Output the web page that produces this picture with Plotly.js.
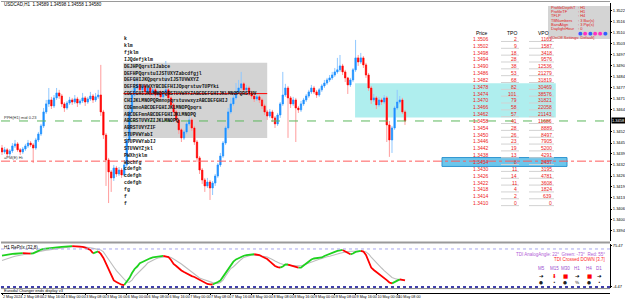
<!DOCTYPE html>
<html><head><meta charset="utf-8">
<script src="https://cdn.plot.ly/plotly-3.0.1.min.js"></script>
<style>html,body{margin:0;padding:0;background:#fff}#chart{width:625px;height:301px}</style>
</head><body><div id="chart"></div>
<script>
// ---------- DATA ----------
const chartTitle = "USDCAD,H1  1.34589 1.34598 1.34558 1.34580";
const xTickLabels = ["2 May 2024","2 May 08:00","2 May 16:00","3 May 00:00","3 May 08:00","3 May 16:00","6 May 00:00","6 May 08:00","6 May 16:00","7 May 00:00","7 May 08:00","7 May 16:00","8 May 00:00","8 May 08:00","8 May 16:00","9 May 00:00","9 May 08:00","9 May 16:00","10 May 00:00","10 May 08:00"];
const barsPerLabel = 8;

const open = [1.34422,1.34399,1.34411,1.34387,1.34405,1.34434,1.34446,1.34411,1.34399,1.34416,
1.34434,1.34451,1.34440,1.34422,1.34469,1.34504,1.34551,1.34633,1.34680,1.34703,
1.34668,1.34715,1.34744,1.34726,1.34680,1.34656,1.34685,1.34703,1.34691,1.34709,
1.34685,1.34697,1.34715,1.34691,1.34709,1.34726,1.34703,1.34721,1.34732,1.34633,
1.34498,1.34352,1.34282,1.34247,1.34305,1.34270,1.34293,1.34264,1.34323,1.34469,
1.34633,1.34732,1.34773,1.34791,1.34762,1.34785,1.34750,1.34773,1.34738,1.34762,
1.34732,1.34750,1.34721,1.34744,1.34762,1.34715,1.34674,1.34633,1.34586,1.34528,
1.34481,1.34516,1.34563,1.34586,1.34539,1.34457,1.34364,1.34293,1.34235,1.34200,
1.34223,1.34188,1.34217,1.34258,1.34323,1.34375,1.34451,1.34539,1.34633,1.34680,
1.34715,1.34750,1.34773,1.34797,1.34762,1.34773,1.34744,1.34726,1.34709,1.34721,
1.34703,1.34668,1.34633,1.34609,1.34633,1.34598,1.34563,1.34615,1.34680,1.34732,
1.34773,1.34715,1.34680,1.34703,1.34656,1.34645,1.34680,1.34703,1.34726,1.34750,
1.34773,1.34750,1.34732,1.34762,1.34785,1.34802,1.34820,1.34832,1.34849,1.34867,
1.34879,1.34902,1.34867,1.34832,1.34791,1.34820,1.34879,1.34949,1.34925,1.34949,
1.34908,1.34849,1.34773,1.34703,1.34715,1.34674,1.34703,1.34691,1.34715,1.34557,
1.34469,1.34539,1.34656,1.34691,1.34703,1.34633];
const high = [1.34440,1.34428,1.34422,1.34416,1.34451,1.34469,1.34457,1.34422,1.34428,1.34446,
1.34469,1.34463,1.34451,1.34481,1.34516,1.34563,1.34656,1.34703,1.34773,1.34721,
1.34732,1.34773,1.34762,1.34738,1.34691,1.34697,1.34721,1.34715,1.34732,1.34721,
1.34709,1.34744,1.34726,1.34721,1.34750,1.34738,1.34744,1.34762,1.34908,1.34645,
1.34510,1.34364,1.34293,1.34323,1.34317,1.34311,1.34305,1.34340,1.34481,1.34650,
1.34762,1.34832,1.34820,1.34802,1.34797,1.34797,1.34791,1.34785,1.34779,1.34773,
1.34762,1.34762,1.34756,1.34931,1.34773,1.34726,1.34685,1.34645,1.34598,1.34539,
1.34528,1.34574,1.34609,1.34598,1.34551,1.34469,1.34375,1.34305,1.34247,1.34247,
1.34235,1.34229,1.34270,1.34334,1.34393,1.34463,1.34551,1.34656,1.34715,1.34750,
1.34802,1.34820,1.34867,1.34808,1.34791,1.34785,1.34756,1.34738,1.34732,1.34732,
1.34715,1.34680,1.34645,1.34650,1.34645,1.34609,1.34627,1.34691,1.34867,1.34797,
1.34785,1.34726,1.34721,1.34715,1.34668,1.34697,1.34715,1.34738,1.34762,1.34791,
1.34785,1.34762,1.34773,1.34797,1.34820,1.34832,1.34849,1.34867,1.34890,1.34949,
1.34966,1.34914,1.34879,1.34838,1.34832,1.34890,1.35054,1.34966,1.34978,1.34960,
1.34920,1.34861,1.34785,1.34738,1.34726,1.34721,1.34715,1.34732,1.34726,1.34580,
1.34551,1.34668,1.34762,1.34726,1.34715,1.34645];
const low = [1.34381,1.34387,1.34370,1.34375,1.34393,1.34422,1.34399,1.34381,1.34387,1.34405,
1.34422,1.34428,1.34334,1.34411,1.34457,1.34492,1.34539,1.34621,1.34662,1.34650,
1.34656,1.34703,1.34709,1.34662,1.34633,1.34645,1.34674,1.34674,1.34680,1.34662,
1.34674,1.34685,1.34668,1.34680,1.34697,1.34685,1.34691,1.34709,1.34609,1.34475,
1.34200,1.34100,1.34165,1.34229,1.34253,1.34258,1.34247,1.34253,1.34311,1.34457,
1.34615,1.34721,1.34762,1.34744,1.34750,1.34733,1.34738,1.34721,1.34726,1.34715,
1.34721,1.34703,1.34709,1.34738,1.34697,1.34656,1.34615,1.34568,1.34504,1.34457,
1.34469,1.34504,1.34551,1.34522,1.34440,1.34340,1.34270,1.34212,1.34165,1.34188,
1.34118,1.34147,1.34200,1.34247,1.34311,1.34364,1.34440,1.34528,1.34621,1.34668,
1.34703,1.34744,1.34762,1.34750,1.34750,1.34726,1.34709,1.34691,1.34697,1.34685,
1.34650,1.34615,1.34586,1.34598,1.34574,1.34539,1.34551,1.34598,1.34668,1.34721,
1.34481,1.34656,1.34668,1.34457,1.34627,1.34633,1.34668,1.34691,1.34715,1.34738,
1.34738,1.34715,1.34721,1.34750,1.34773,1.34791,1.34808,1.34820,1.34838,1.34856,
1.34867,1.34849,1.34808,1.34738,1.34779,1.34808,1.34867,1.34902,1.34914,1.34890,
1.34832,1.34756,1.34680,1.34691,1.34650,1.34662,1.34674,1.34680,1.34457,1.34370,
1.34393,1.34528,1.34645,1.34680,1.34621,1.34557];
const close = [1.34399,1.34411,1.34387,1.34405,1.34434,1.34446,1.34411,1.34399,1.34416,1.34434,
1.34451,1.34440,1.34422,1.34469,1.34504,1.34551,1.34633,1.34680,1.34703,1.34668,
1.34715,1.34744,1.34726,1.34680,1.34656,1.34685,1.34703,1.34691,1.34709,1.34685,
1.34697,1.34715,1.34691,1.34709,1.34726,1.34703,1.34721,1.34732,1.34633,1.34498,
1.34352,1.34282,1.34247,1.34305,1.34270,1.34293,1.34264,1.34323,1.34469,1.34633,
1.34732,1.34773,1.34791,1.34762,1.34785,1.34750,1.34773,1.34738,1.34762,1.34732,
1.34750,1.34721,1.34744,1.34762,1.34715,1.34674,1.34633,1.34586,1.34528,1.34481,
1.34516,1.34563,1.34586,1.34539,1.34457,1.34364,1.34293,1.34235,1.34200,1.34223,
1.34188,1.34217,1.34258,1.34323,1.34375,1.34451,1.34539,1.34633,1.34680,1.34715,
1.34750,1.34773,1.34797,1.34762,1.34773,1.34744,1.34726,1.34709,1.34721,1.34703,
1.34668,1.34633,1.34609,1.34633,1.34598,1.34563,1.34615,1.34680,1.34732,1.34773,
1.34715,1.34680,1.34703,1.34656,1.34645,1.34680,1.34703,1.34726,1.34750,1.34773,
1.34750,1.34732,1.34762,1.34785,1.34802,1.34820,1.34832,1.34849,1.34867,1.34879,
1.34902,1.34867,1.34832,1.34791,1.34820,1.34879,1.34949,1.34925,1.34949,1.34908,
1.34849,1.34773,1.34703,1.34715,1.34674,1.34703,1.34691,1.34715,1.34557,1.34469,
1.34539,1.34656,1.34691,1.34703,1.34633,1.34580];

const tdiPrice = [61.8,62.3,62.6,63.0,63.3,63.5,63.7,63.9,64.0,63.8,
63.7,63.6,63.8,65.0,66.6,67.5,68.0,68.4,68.7,68.8,
68.9,69.4,69.7,69.9,70.1,70.4,70.6,70.6,70.5,70.4,
70.2,69.9,69.2,68.0,67.1,63.9,65.2,65.8,63.3,59.5,
53.8,48.1,42.4,38.2,36.7,35.3,34.2,33.9,37.0,40.5,
45.3,49.1,51.4,54.5,55.7,57.1,58.5,59.2,60.0,60.4,
60.9,61.2,61.4,61.1,60.4,57.6,53.8,51.9,49.5,47.6,
46.2,44.8,43.9,42.4,41.5,40.1,38.6,37.0,35.8,34.9,
34.6,34.4,35.3,36.7,38.2,42.0,45.3,48.6,52.8,56.0,
58.1,59.5,60.6,61.6,62.1,62.5,62.9,63.0,62.8,62.3,
60.9,59.5,58.5,56.2,53.8,51.9,50.8,50.3,51.4,53.3,
53.3,52.5,52.1,51.4,50.4,50.4,52.3,54.5,56.6,58.1,
59.0,59.5,59.7,60.0,61.4,62.5,63.5,64.2,65.2,66.1,
66.8,67.1,65.6,63.7,63.0,63.7,65.2,65.8,66.1,65.6,
62.3,55.7,50.4,48.1,46.2,44.9,42.9,41.0,38.6,36.3,
35.5,37.0,38.2,39.3,38.8,38.2];
const tdiSignal = [57.1,58.1,59.0,59.7,60.4,61.1,61.6,62.3,62.9,63.5,
64.0,64.5,64.9,65.3,65.8,66.3,66.6,66.9,67.1,67.3,
67.7,68.2,68.6,68.9,69.3,69.7,70.0,70.3,70.5,70.6,
70.6,70.4,70.1,69.6,69.1,68.6,68.2,68.0,67.1,65.2,
61.4,57.6,54.3,51.0,47.6,44.8,41.5,38.6,36.7,36.5,
38.6,42.0,44.3,46.5,49.1,51.9,54.7,56.2,57.6,58.5,
59.5,60.1,60.6,60.7,60.6,60.0,58.5,57.1,55.2,53.8,
51.9,50.0,48.1,45.7,43.9,42.0,40.5,39.6,38.6,37.8,
37.2,36.2,35.8,35.5,36.2,38.6,42.4,46.2,49.5,51.2,
53.8,56.2,58.1,60.0,60.9,61.8,62.3,62.3,62.1,61.8,
61.4,60.9,60.4,59.5,58.1,56.6,55.2,54.3,53.5,53.0,
52.8,52.5,52.3,52.1,52.1,52.1,52.8,53.8,54.7,55.7,
56.6,57.6,58.2,59.0,60.0,60.6,61.2,61.7,62.3,63.3,
64.0,64.7,65.2,65.6,65.8,65.9,66.0,66.1,66.1,65.9,
65.2,63.3,60.4,57.6,54.7,52.3,50.0,47.6,45.3,42.9,
41.0,40.1,39.3,38.8,38.6,38.6];
const tdiLevels = [68, 32];

const priceTicks = [1.35224,1.35159,1.35095,1.35031,1.34966,1.34902,1.34838,1.34773,1.34709,1.34645,1.34516,1.34451,1.34387,1.34323,1.34258,1.34194,1.34130,1.34065,1.34001,1.33937];
const currentPrice = 1.34580;
const pivotLevel = 1.34580;   // green dashed
const pmLevel = 1.34345;      // red dash-dot

const tpoPrices = [1.3506,1.3502,1.3498,1.3494,1.3490,1.3486,1.3482,1.3478,1.3474,1.3470,1.3466,1.3462,1.3458,1.3454,1.3450,1.3446,1.3442,1.3438,1.3434,1.3430,1.3426,1.3422,1.3418,1.3414,1.3410];
const tpoLetters = ["k","klm","fjklm","IJQdefjklm","DEJHPQqrstIJabce","DEFHPQqrstuIJSTUXYZabcdfgjl","DEFGHIJKQpqrstuvIJSTUVWXYZ","DEFRSTUVWXYBCDEFHIJOpqrstuvTUPYki","CDEFGHIJKLMNOPQRSTUVWXYZABCDEFGHIJKLMNOPQRSTUV","CHIJKLMNOPQRmnopqrstuvwxyzABCDEFGHIJ","CDEmnoABCDEFGHIJKLMNOPQpqrs","ABCDEFmnABCDEFGHIJKLMNOPQ","ABCRSTUVYZIJKLMNOPQ","ABRSTUVYZIF","STUPVWYabI","STUPVWYabIJ","STUVWYZjkl","PWXhjklm","Wbchfg","cdefgh","cdefgh","cdefgh","fg","f","f"];
const tpoCounts = [2,9,18,28,38,53,68,82,101,79,58,57,41,28,26,23,19,13,8,11,14,11,4,2,0];
const vpoCounts = [1161,1587,3418,9576,12536,21279,31819,30469,38576,31821,22058,21143,11686,8889,8497,7905,5200,4291,2437,3195,4781,3608,1824,639,0];
const profileStartBar = [47, 136];
const profileEndBar = [102, 213];
const valueAreaLow = [1.3448, 1.3460];
const valueAreaHigh = [1.3492, 1.3480];
const pocPrice = 1.3474;
const highlightPrice = 1.3434;

const infoLabels = ["ProfileDepthT","ProfileTF","TFLP","TBNumbers","BarsAlign","DaylightHour"];
const infoValues = ["H1","H1","H4","3 Bar(s)","3 Pip(s)","0"];
const tfLabels = ["M5","M15","M30","H1","H4","D1"];
const tfArrows = ["➔","⬇","■","➔","■","➔"];
const tfArrowColors = ["#000000","#ff0000","#ff0000","#000000","#ff0000","#000000"];
const tfMarks = ["●","•","●","%","●","•"];
const dotColors = ["#3060ff","#ff30c0","#3060ff","#ff30c0","#ff30c0","#3060ff"];

// ---------- GEOMETRY HELPERS ----------
const W = 625, H = 301, ML = 1, MR = 15, MT = 2, MB = 8;
const PW = W - ML - MR, PH = H - MT - MB;
const px = p => (p - ML) / PW;
const py = p => (H - MB - p) / PH;

const bars = close.map((_, i) => i);
const bodyHigh = open.map((o, i) => Math.max(o, close[i]));
const bodyLow = open.map((o, i) => Math.min(o, close[i]));

function runs(vals, up) {
  const xs = [], ys = [];
  for (let i = 0; i < vals.length - 1; i++) {
    const isUp = vals[i + 1] >= vals[i];
    if (isUp !== up) continue;
    if (!(xs.length && xs[xs.length - 1] === i)) {
      if (xs.length) { xs.push(null); ys.push(null); }
      xs.push(i); ys.push(vals[i]);
    }
    xs.push(i + 1); ys.push(vals[i + 1]);
  }
  return { xs, ys };
}
const upRun = runs(tdiPrice, true), dnRun = runs(tdiPrice, false);

const traces = [
  { type: 'candlestick', x: bars, open, high, low, close, xaxis: 'x', yaxis: 'y',
    increasing: { line: { color: '#90c8ff', width: 1 }, fillcolor: '#90c8ff' },
    decreasing: { line: { color: '#ff9c9c', width: 1 }, fillcolor: '#ff9c9c' },
    whiskerwidth: 0, hoverinfo: 'skip', showlegend: false },
  { type: 'candlestick', x: bars, open, high: bodyHigh, low: bodyLow, close, xaxis: 'x', yaxis: 'y',
    increasing: { line: { color: '#1e90ff', width: 0.5 }, fillcolor: '#1e90ff' },
    decreasing: { line: { color: '#ff0000', width: 0.5 }, fillcolor: '#ff0000' },
    whiskerwidth: 0, hoverinfo: 'skip', showlegend: false },
  { type: 'scatter', mode: 'lines', x: bars, y: tdiSignal, xaxis: 'x', yaxis: 'y2',
    line: { color: '#bdbdbd', width: 1.1 }, hoverinfo: 'skip' },
  { type: 'scatter', mode: 'lines', x: upRun.xs, y: upRun.ys, xaxis: 'x', yaxis: 'y2',
    line: { color: '#1ed21e', width: 1.8 }, connectgaps: false, hoverinfo: 'skip' },
  { type: 'scatter', mode: 'lines', x: dnRun.xs, y: dnRun.ys, xaxis: 'x', yaxis: 'y2',
    line: { color: '#ff0000', width: 1.8 }, connectgaps: false, hoverinfo: 'skip' }
];

// ---------- SHAPES ----------
const shapes = [];
shapes.push({ type: 'rect', xref: 'x', yref: 'y', x0: profileStartBar[0] - 0.3, x1: profileEndBar[0], y0: valueAreaLow[0], y1: valueAreaHigh[0], fillcolor: '#d3d3d3', line: { width: 0 }, layer: 'below' });
shapes.push({ type: 'rect', xref: 'x', yref: 'y', x0: profileStartBar[1] - 0.2, x1: profileEndBar[1], y0: valueAreaLow[1], y1: valueAreaHigh[1], fillcolor: '#afeeee', line: { width: 0 }, layer: 'below' });
shapes.push({ type: 'rect', xref: 'paper', yref: 'y', x0: px(442), x1: px(567), y0: highlightPrice - 0.00026, y1: highlightPrice + 0.00026, fillcolor: '#6cc6ec', line: { color: '#2f95d0', width: 1 }, layer: 'below' });
shapes.push({ type: 'line', xref: 'x', yref: 'y', x0: profileStartBar[0] - 0.3, x1: profileEndBar[0], y0: pocPrice, y1: pocPrice, line: { color: '#ff0000', width: 1 } });
shapes.push({ type: 'line', xref: 'paper', yref: 'y', x0: 0, x1: 1, y0: pivotLevel, y1: pivotLevel, line: { color: '#5cb85c', width: 1, dash: 'dash' } });
shapes.push({ type: 'line', xref: 'paper', yref: 'y', x0: 0, x1: 1, y0: pmLevel, y1: pmLevel, line: { color: '#ff5a5a', width: 1, dash: 'dashdot' } });
shapes.push({ type: 'rect', xref: 'paper', yref: 'paper', x0: px(548), x1: 1, y0: py(39), y1: py(6), fillcolor: '#d4d4d4', line: { width: 0 } });
tpoPrices.forEach(p => {
  shapes.push({ type: 'line', xref: 'paper', yref: 'y', x0: px(501), x1: px(519), y0: p - 0.00015, y1: p - 0.00015, line: { color: '#d2d2d2', width: 1 } });
  shapes.push({ type: 'line', xref: 'paper', yref: 'y', x0: px(529), x1: px(554), y0: p - 0.00015, y1: p - 0.00015, line: { color: '#d2d2d2', width: 1 } });
});
shapes.push({ type: 'line', xref: 'paper', yref: 'paper', x0: 0, x1: 1, y0: py(242.5), y1: py(242.5), line: { color: '#9a9a9a', width: 2 } });
shapes.push({ type: 'line', xref: 'paper', yref: 'paper', x0: 0, x1: 1, y0: py(288.6), y1: py(288.6), line: { color: '#888888', width: 1 } });
shapes.push({ type: 'line', xref: 'paper', yref: 'paper', x0: 0, x1: 1, y0: py(1.5), y1: py(1.5), line: { color: '#9a9a9a', width: 1 } });
shapes.push({ type: 'line', xref: 'paper', yref: 'y2', x0: 0, x1: 1, y0: tdiLevels[0], y1: tdiLevels[0], line: { color: '#a8a8f0', width: 1, dash: 'dot' } });
shapes.push({ type: 'line', xref: 'paper', yref: 'y2', x0: 0, x1: 1, y0: tdiLevels[1], y1: tdiLevels[1], line: { color: '#000090', width: 1.5, dash: 'dot' } });

// ---------- ANNOTATIONS ----------
const F = 'Liberation Sans, Arial, sans-serif';
const FN = 'Liberation Sans Narrow, Liberation Sans, Arial, sans-serif';
const ann = [];
const txt = (o) => ann.push(Object.assign({ showarrow: false, borderpad: 0 }, o));
txt({ text: chartTitle, xref: 'paper', yref: 'paper', x: px(3), y: py(4.5), xanchor: 'left', yanchor: 'middle', font: { family: F, size: 4.5, color: '#000' } });
txt({ text: 'PPH(H1) mid 0.23', xref: 'paper', yref: 'y', x: px(3), y: pivotLevel, xanchor: 'left', yanchor: 'bottom', font: { family: F, size: 4, color: '#333' } });
txt({ text: '=PM(E) Hi', xref: 'paper', yref: 'y', x: px(3), y: pmLevel, xanchor: 'left', yanchor: 'bottom', font: { family: F, size: 4, color: '#333' } });
tpoLetters.forEach((s, k) => txt({ text: '<b>' + s + '</b>', xref: 'x', yref: 'y', x: profileStartBar[0] - 0.5, y: tpoPrices[k], xanchor: 'left', yanchor: 'middle', font: { family: 'Liberation Mono, monospace', size: 4.8, color: '#111' } }));
txt({ text: 'Price', xref: 'paper', yref: 'paper', x: px(489), y: py(33), xanchor: 'right', yanchor: 'middle', font: { family: F, size: 5, color: '#000' } });
txt({ text: 'TPO', xref: 'paper', yref: 'paper', x: px(518), y: py(33), xanchor: 'right', yanchor: 'middle', font: { family: F, size: 5, color: '#000' } });
txt({ text: 'VPO', xref: 'paper', yref: 'paper', x: px(550), y: py(33), xanchor: 'right', yanchor: 'middle', font: { family: F, size: 5, color: '#000' } });
tpoPrices.forEach((p, k) => {
  txt({ text: p.toFixed(4), xref: 'paper', yref: 'y', x: px(490), y: p, xanchor: 'right', yanchor: 'middle', font: { family: F, size: 5, color: '#ee2222' } });
  txt({ text: String(tpoCounts[k]), xref: 'paper', yref: 'y', x: px(518), y: p, xanchor: 'right', yanchor: 'middle', font: { family: F, size: 5, color: '#ee2222' } });
  txt({ text: String(vpoCounts[k]), xref: 'paper', yref: 'y', x: px(553), y: p, xanchor: 'right', yanchor: 'middle', font: { family: F, size: 5, color: '#ee2222' } });
});
infoLabels.forEach((s, k) => {
  const yy = py(7.5 + k * 4.2);
  txt({ text: s, xref: 'paper', yref: 'paper', x: px(550), y: yy, xanchor: 'left', yanchor: 'middle', font: { family: F, size: 4, color: '#e02020' } });
  txt({ text: ': ' + infoValues[k], xref: 'paper', yref: 'paper', x: px(577), y: yy, xanchor: 'left', yanchor: 'middle', font: { family: F, size: 4, color: '#e02020' } });
});
dotColors.forEach((c, k) => txt({ text: '●', xref: 'paper', yref: 'paper', x: px(580 + k * 5), y: py(33), xanchor: 'center', yanchor: 'middle', font: { family: 'DejaVu Sans', size: 5, color: c } }));
txt({ text: '[OnOff Settings: Default]', xref: 'paper', yref: 'paper', x: px(550), y: py(37.5), xanchor: 'left', yanchor: 'middle', font: { family: F, size: 4, color: '#e02020' } });
txt({ text: currentPrice.toFixed(4), xref: 'paper', yref: 'y', x: 1, y: currentPrice, xanchor: 'left', yanchor: 'middle', xshift: 1, bgcolor: '#000', font: { family: F, size: 4, color: '#fff' } });
txt({ text: 'H1 RePrIx (32,8)', xref: 'paper', yref: 'paper', x: px(3), y: py(247.5), xanchor: 'left', yanchor: 'middle', font: { family: F, size: 4.5, color: '#000' } });
txt({ text: 'TDI AnalogAngle: 22°  Green: -73°  Red: 55°', xref: 'paper', yref: 'paper', x: px(606), y: py(254), xanchor: 'right', yanchor: 'middle', font: { family: F, size: 4.5, color: '#b05cd6' } });
txt({ text: 'TDI Crossed DOWN [3.7]', xref: 'paper', yref: 'paper', x: px(606), y: py(259.5), xanchor: 'right', yanchor: 'middle', font: { family: F, size: 4.5, color: '#ff2020' } });
const tfX = [541, 554, 565, 577, 589, 599];
tfLabels.forEach((s, k) => {
  txt({ text: s, xref: 'paper', yref: 'paper', x: px(tfX[k]), y: py(268), xanchor: 'center', yanchor: 'middle', font: { family: F, size: 4.5, color: '#9b4fd0' } });
  txt({ text: tfArrows[k], xref: 'paper', yref: 'paper', x: px(tfX[k]), y: py(276), xanchor: 'center', yanchor: 'middle', font: { family: 'DejaVu Sans', size: 5.5, color: tfArrowColors[k] } });
  txt({ text: tfMarks[k], xref: 'paper', yref: 'paper', x: px(tfX[k]), y: py(282.5), xanchor: 'center', yanchor: 'middle', font: { family: 'DejaVu Sans', size: 4.5, color: '#222' } });
});
txt({ text: 'Eurodal Changer ends display v3', xref: 'paper', yref: 'paper', x: px(3), y: py(290.8), xanchor: 'left', yanchor: 'middle', font: { family: F, size: 4, color: '#000' } });

// ---------- LAYOUT ----------
const layout = {
  width: W, height: H,
  margin: { l: ML, r: MR, t: MT, b: MB, pad: 0 },
  paper_bgcolor: '#fff', plot_bgcolor: '#fff',
  showlegend: false, dragmode: false,
  xaxis: {
    range: [-0.385, 233.85], anchor: 'free', position: 0,
    tickvals: xTickLabels.map((_, k) => k * barsPerLabel), ticktext: xTickLabels,
    tickangle: 0, automargin: false,
    ticklabelposition: 'outside right', ticks: 'outside', ticklen: 1, tickcolor: '#000',
    ticklabelstandoff: 0,
    tickfont: { family: F, size: 3.7, color: '#000' },
    showgrid: false, zeroline: false, showline: true, linecolor: '#000', linewidth: 1,
    rangeslider: { visible: false }, fixedrange: true
  },
  yaxis: {
    domain: [py(241), py(3)], range: [1.33878, 1.35270], side: 'right', anchor: 'x',
    tickvals: priceTicks, ticktext: priceTicks.map(v => v.toFixed(4)),
    ticks: 'outside', ticklen: 1, tickcolor: '#000', ticklabelstandoff: 0, automargin: false,
    tickfont: { family: F, size: 4, color: '#000' },
    showgrid: false, zeroline: false, showline: true, linecolor: '#000', linewidth: 1, fixedrange: true
  },
  yaxis2: {
    domain: [py(288), py(244)], range: [31.1, 72.7], side: 'right', anchor: 'x',
    tickvals: [71.5, 32.5], ticktext: ['75.47', '-4.47'],
    ticks: 'outside', ticklen: 1, tickcolor: '#000', ticklabelstandoff: 0, automargin: false,
    tickfont: { family: F, size: 4, color: '#000' },
    showgrid: false, zeroline: false, showline: true, linecolor: '#000', linewidth: 1, fixedrange: true
  },
  shapes, annotations: ann
};

Plotly.newPlot('chart', traces, layout, { staticPlot: true, displayModeBar: false });
</script>
</body></html>
